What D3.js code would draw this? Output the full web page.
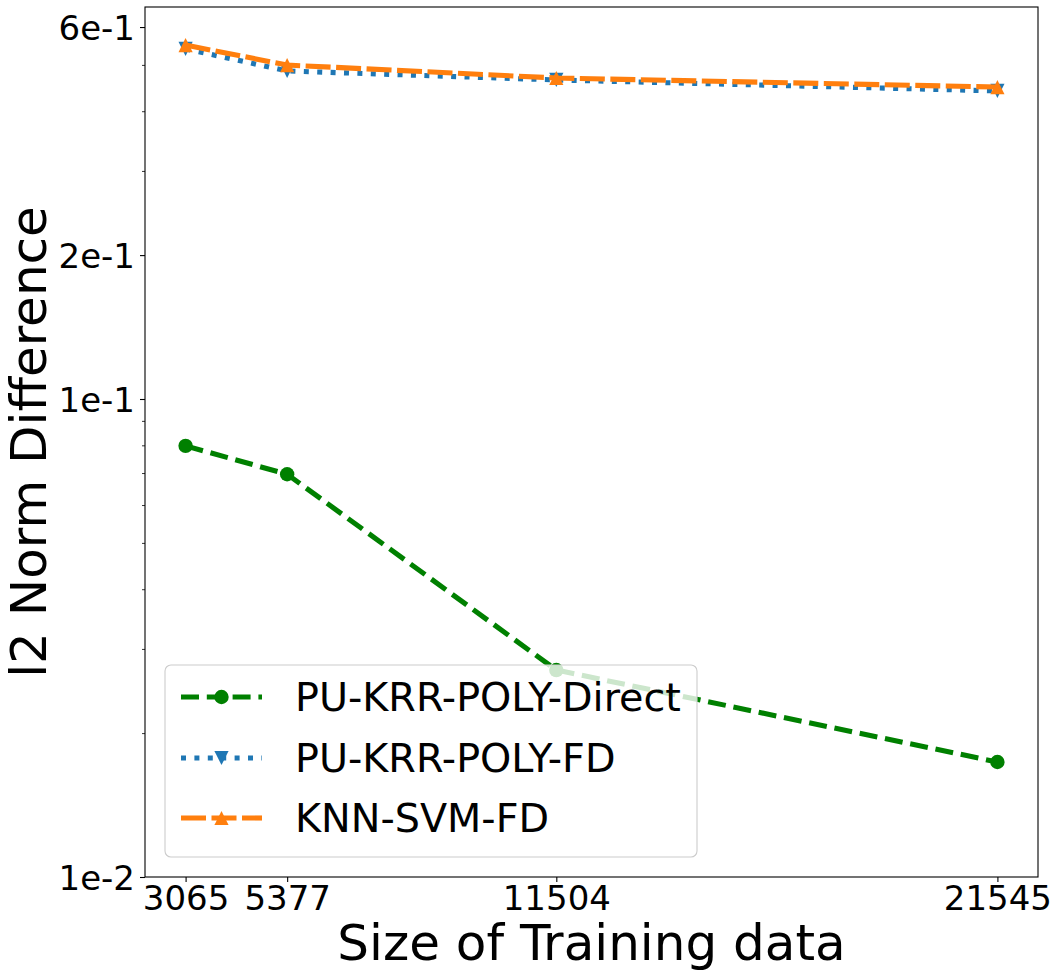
<!DOCTYPE html>
<html><head><meta charset="utf-8">
<script src="https://cdn.jsdelivr.net/npm/d3@7"></script>
<style>
html,body{margin:0;padding:0;background:#fff;}
text{font-family:"DejaVu Sans",sans-serif;fill:#000;}
</style></head>
<body><svg id="chart" width="1060" height="977"></svg>
<script>
// ---- data ----
const sizes = [3065, 5377, 11504, 21545];
const directVals = [0.0798, 0.0696, 0.0271, 0.0174];
const fdVals = [0.540, 0.4856, 0.4650, 0.4410];
const knnVals = [0.550, 0.4996, 0.4694, 0.4494];
const seriesNames = ["PU-KRR-POLY-Direct", "PU-KRR-POLY-FD", "KNN-SVM-FD"];
const yMajorTicks = [0.01, 0.1, 0.2, 0.6];
const yMajorLabels = ["1e-2", "1e-1", "2e-1", "6e-1"];
const yMinorTicks = [0.02, 0.03, 0.04, 0.05, 0.06, 0.07, 0.08, 0.09, 0.3, 0.4, 0.5];
const xTickLabels = ["3065", "5377", "11504", "21545"];
const xLabel = "Size of Training data";
const yLabel = "l2 Norm Difference";

// ---- layout ----
const L = 145, R = 1038, T = 7, B = 877;
const svg = d3.select("#chart");
const xPad = (sizes[3] - sizes[0]) * 0.05;
const x = d3.scaleLinear().domain([sizes[0] - xPad, sizes[3] + xPad]).range([L, R]);
const y = d3.scaleLog().domain([0.01, Math.pow(10, -2 + (B - T) / 478)]).range([B, T]);

const clipId = "plotclip";
svg.append("defs").append("clipPath").attr("id", clipId)
  .append("rect").attr("x", L).attr("y", T).attr("width", R - L).attr("height", B - T);

const series = [
  {name: seriesNames[0], vals: directVals, color: "#008000", dash: "18,7.8", marker: "circle"},
  {name: seriesNames[1], vals: fdVals, color: "#1f77b4", dash: "5,8.4", marker: "down"},
  {name: seriesNames[2], vals: knnVals, color: "#ff7f0e", dash: "25,5.5", marker: "up"}
];

function drawMarker(g, type, cx, cy, color) {
  const s = 7.1;
  if (type === "circle") {
    g.append("circle").attr("cx", cx).attr("cy", cy).attr("r", 7.2).attr("fill", color);
  } else if (type === "down") {
    g.append("path").attr("d", `M${cx},${cy + s}L${cx - s},${cy - s}L${cx + s},${cy - s}Z`).attr("fill", color);
  } else {
    g.append("path").attr("d", `M${cx},${cy - s}L${cx - s},${cy + s}L${cx + s},${cy + s}Z`).attr("fill", color);
  }
}

const plot = svg.append("g").attr("clip-path", `url(#${clipId})`);
const line = d3.line().x(d => x(d[0])).y(d => y(d[1]));
series.forEach(s => {
  const pts = sizes.map((v, i) => [v, s.vals[i]]);
  plot.append("path").attr("d", line(pts)).attr("fill", "none")
    .attr("stroke", s.color).attr("stroke-width", 5.1).attr("stroke-dasharray", s.dash)
    .attr("stroke-linecap", "butt");
  pts.forEach(p => drawMarker(plot, s.marker, x(p[0]), y(p[1]), s.color));
});

// ---- axes ----
const yAxisMajor = d3.axisLeft(y).tickValues(yMajorTicks)
  .tickFormat(d => yMajorLabels[yMajorTicks.indexOf(d)]).tickSize(5).tickPadding(5);
const gy = svg.append("g").attr("transform", `translate(${L},0)`).call(yAxisMajor);
gy.select(".domain").remove();
gy.selectAll("line").attr("stroke", "#000").attr("stroke-width", 1.1);
gy.selectAll("text").attr("font-size", 34).attr("font-family", "DejaVu Sans").attr("dy", "0.36em");

const yAxisMinor = d3.axisLeft(y).tickValues(yMinorTicks).tickFormat("").tickSize(3);
const gym = svg.append("g").attr("transform", `translate(${L},0)`).call(yAxisMinor);
gym.select(".domain").remove();
gym.selectAll("line").attr("stroke", "#000").attr("stroke-width", 0.8);

const xAxis = d3.axisBottom(x).tickValues(sizes)
  .tickFormat((d, i) => xTickLabels[i]).tickSize(5).tickPadding(3);
const gx = svg.append("g").attr("transform", `translate(0,${B})`).call(xAxis);
gx.select(".domain").remove();
gx.selectAll("line").attr("stroke", "#000").attr("stroke-width", 1.1);
gx.selectAll("text").attr("font-size", 34).attr("font-family", "DejaVu Sans").attr("dy", "0.74em");

// frame
svg.append("rect").attr("x", L).attr("y", T).attr("width", R - L).attr("height", B - T)
  .attr("fill", "none").attr("stroke", "#000").attr("stroke-width", 1.1);

// axis labels
svg.append("text").attr("x", (L + R) / 2).attr("y", 960).attr("text-anchor", "middle")
  .attr("font-size", 50).text(xLabel);
svg.append("text").attr("transform", `translate(46,${(T + B) / 2}) rotate(-90)`)
  .attr("text-anchor", "middle").attr("font-size", 50).text(yLabel);

// ---- legend ----
const lg = svg.append("g");
lg.append("rect").attr("x", 165).attr("y", 665).attr("width", 532).attr("height", 192)
  .attr("rx", 6).attr("fill", "#fff").attr("fill-opacity", 0.8)
  .attr("stroke", "#cccccc").attr("stroke-width", 1.1);
const rowY = [697, 758, 818];
series.forEach((s, i) => {
  const yy = rowY[i];
  lg.append("line").attr("x1", 181).attr("x2", 262).attr("y1", yy).attr("y2", yy)
    .attr("stroke", s.color).attr("stroke-width", 5.1).attr("stroke-dasharray", s.dash);
  drawMarker(lg, s.marker, 221.5, yy, s.color);
  lg.append("text").attr("x", 295).attr("y", yy).attr("dy", "0.36em")
    .attr("font-size", 39.7).text(s.name);
});
</script></body></html>
